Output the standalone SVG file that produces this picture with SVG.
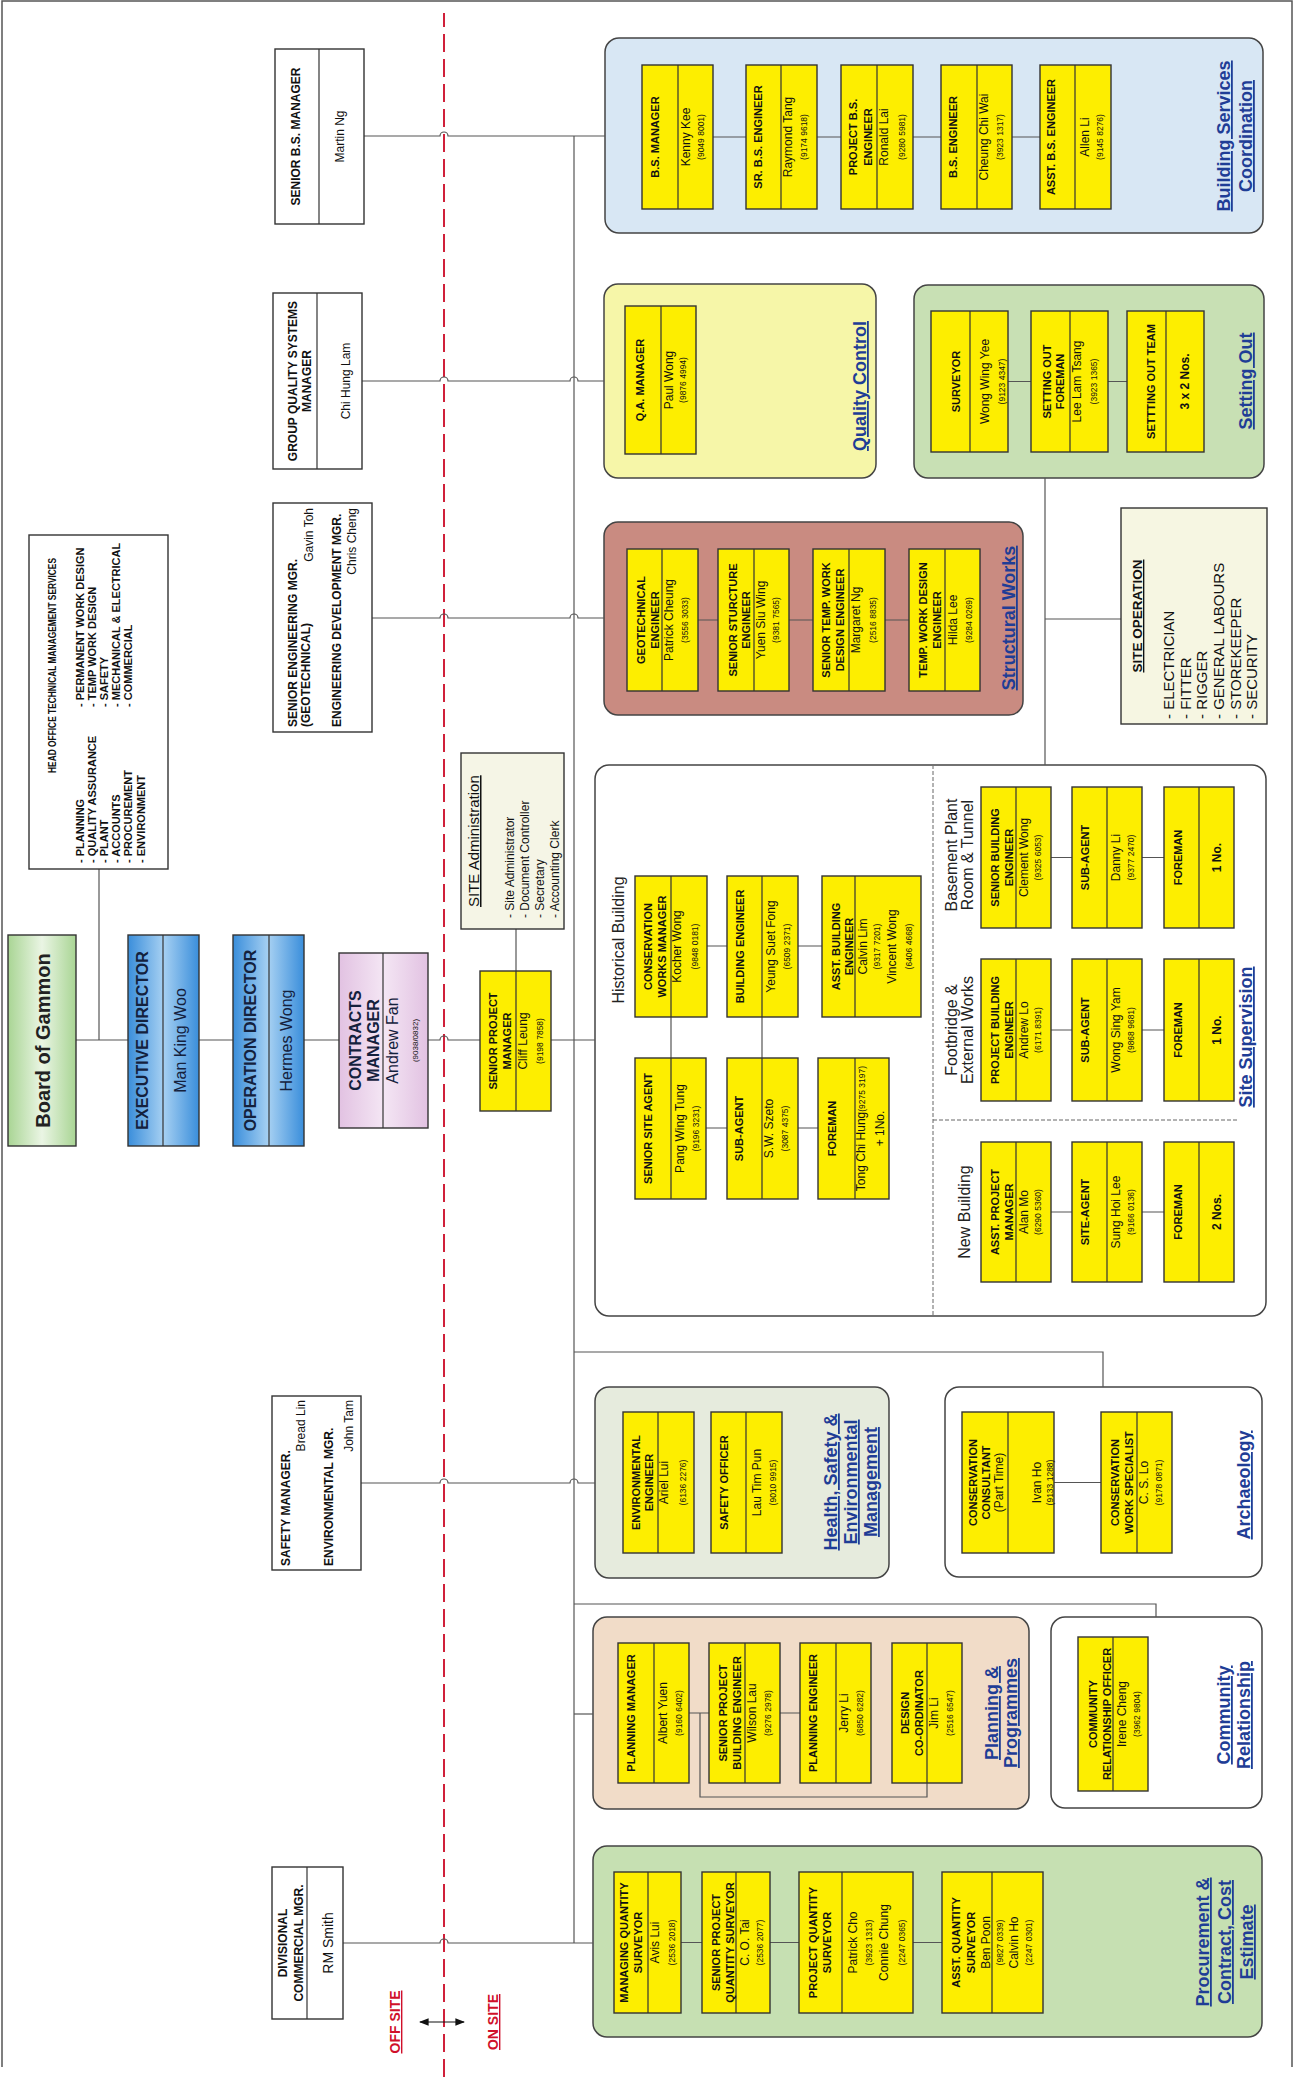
<svg xmlns="http://www.w3.org/2000/svg" width="1296" height="2077" viewBox="0 0 1296 2077">
<style>
text{font-family:"Liberation Sans",Arial,sans-serif;fill:#111}
.yb{fill:#fdee00;stroke:#333;stroke-width:1.4}
.wb{fill:#fff;stroke:#333;stroke-width:1.4}
.dv{stroke:#333;stroke-width:1.2}
.cn{fill:none;stroke:#555;stroke-width:1.2}
.ct{stroke:#444;stroke-width:1.5}
.t{font-size:11px;font-weight:bold;text-anchor:middle}
.n{font-size:12px;text-anchor:middle}
.p{font-size:8.5px;text-anchor:middle}
.b12{font-size:12px;font-weight:bold;text-anchor:middle}
.lb{font-size:18px;font-weight:bold;fill:#1f3d96;text-decoration:underline;text-anchor:middle}
.sub{font-size:16px;text-anchor:middle;fill:#222}
.bt{font-size:16px;font-weight:bold;text-anchor:middle;fill:#14213d}
.bn{font-size:16px;text-anchor:middle;fill:#14213d}
.hl{font-size:11px;font-weight:bold}
.red{font-size:14px;font-weight:bold;fill:#d0102a;text-decoration:underline;text-anchor:middle}
</style>
<defs>
<linearGradient id="gGreen" x1="0" y1="0" x2="0" y2="1"><stop offset="0" stop-color="#a9d594"/><stop offset="0.5" stop-color="#eaf5e4"/><stop offset="1" stop-color="#a9d594"/></linearGradient>
<linearGradient id="gBlue" x1="0" y1="0" x2="0" y2="1"><stop offset="0" stop-color="#3a8edb"/><stop offset="0.5" stop-color="#a6d0f2"/><stop offset="1" stop-color="#3a8edb"/></linearGradient>
<linearGradient id="gPink" x1="0" y1="0" x2="0" y2="1"><stop offset="0" stop-color="#e2c2e2"/><stop offset="0.5" stop-color="#f4e6f4"/><stop offset="1" stop-color="#e2c2e2"/></linearGradient>
<marker id="ah" viewBox="0 0 10 10" refX="9" refY="5" markerWidth="8" markerHeight="8" orient="auto-start-reverse"><path d="M0 1 L10 5 L0 9z" fill="#111"/></marker>
</defs>
<rect width="1296" height="2077" fill="#fff"/>
<path d="M2 2067 V1 H1292 V2067" fill="none" stroke="#555" stroke-width="1.5"/>
<g transform="translate(0,2077) rotate(-90)">

<!-- containers -->
<g id="grp-bs"><rect class="ct" x="1844" y="605" width="195" height="658" rx="14" fill="#d8e7f4"/>
<text class="lb" x="1941" y="1230">Building Services</text><text class="lb" x="1941" y="1252">Coordination</text></g>
<g id="grp-qc"><rect class="ct" x="1599" y="604" width="194" height="272" rx="14" fill="#f6f6a8"/>
<text class="lb" x="1691" y="866">Quality Control</text></g>
<g id="grp-so"><rect class="ct" x="1599" y="914" width="193" height="350" rx="14" fill="#c8e0b4"/>
<text class="lb" x="1696" y="1252">Setting Out</text></g>
<g id="grp-sw"><rect class="ct" x="1362" y="604" width="193" height="419" rx="14" fill="#c98b81"/>
<text class="lb" x="1459" y="1015">Structural Works</text></g>
<g id="grp-ss"><rect class="ct" x="761" y="595" width="551" height="671" rx="14" fill="#fff"/>
<path d="M762 933 H1311 M957 933 V1237" fill="none" stroke="#666" stroke-width="1" stroke-dasharray="4 2"/>
<text class="sub" x="1137" y="624">Historical Building</text>
<text class="sub" x="1222" y="957">Basement Plant</text><text class="sub" x="1222" y="973">Room &amp; Tunnel</text>
<text class="sub" x="1047" y="957">Footbridge &amp;</text><text class="sub" x="1047" y="973">External Works</text>
<text class="sub" x="865" y="970">New Building</text>
<text class="lb" x="1040" y="1252">Site Supervision</text></g>
<g id="grp-hse"><rect class="ct" x="499" y="595" width="191" height="294" rx="14" fill="#e6ebdd"/>
<text class="lb" x="595" y="837">Health, Safety &amp;</text><text class="lb" x="595" y="857">Environmental</text><text class="lb" x="595" y="877">Management</text></g>
<g id="grp-arch"><rect class="ct" x="500" y="945" width="190" height="317" rx="14" fill="#fff"/>
<text class="lb" x="592" y="1250">Archaeology</text></g>
<g id="grp-plan"><rect class="ct" x="268" y="593" width="192" height="436" rx="14" fill="#f1dcc8"/>
<text class="lb" x="364" y="998">Planning &amp;</text><text class="lb" x="364" y="1017">Programmes</text></g>
<g id="grp-comm"><rect class="ct" x="269" y="1051" width="191" height="211" rx="14" fill="#fff"/>
<text class="lb" x="362" y="1230">Community</text><text class="lb" x="362" y="1250">Relationship</text></g>
<g id="grp-proc"><rect class="ct" x="40" y="593" width="191" height="669" rx="14" fill="#c6e0b2"/>
<text class="lb" x="135" y="1209">Procurement &amp;</text><text class="lb" x="135" y="1231">Contract, Cost</text><text class="lb" x="135" y="1253">Estimate</text></g>

<!-- on/off site -->
<path d="M0 444 H2064" fill="none" stroke="#d0203a" stroke-width="2" stroke-dasharray="18 7"/>

<!-- connectors -->
<g id="connectors" class="cn">
<path d="M1941 364 V440 A4 4 0 0 1 1941 448 V605"/>
<path d="M1941 574 L134 574"/>
<path d="M1696 362 V440 A4 4 0 0 1 1696 448 V570 A4 4 0 0 1 1696 578 V604"/>
<path d="M1459 372 V440 A4 4 0 0 1 1459 448 V570 A4 4 0 0 1 1459 578 V604"/>
<path d="M1208 99 H1037"/>
<path d="M1037 76 V440 A4 4 0 0 1 1037 448 V595"/>
<path d="M1106 516 H1148"/>
<path d="M594 361 V440 A4 4 0 0 1 594 448 V570 A4 4 0 0 1 594 578 V595"/>
<path d="M134 343 V440 A4 4 0 0 1 134 448 V593"/>
<path d="M725 574 V1103 H690"/>
<path d="M473 574 V1156 H460"/>
<path d="M363 574 V593"/>
<path d="M1312 1045 H1599 M1458 1045 V1121"/>
<path d="M1940 713 V746 M1940 817 V841 M1940 913 V941 M1940 1012 V1040"/>
<path d="M1457 698 V718 M1457 789 V813 M1457 885 V909"/>
<path d="M1695.5 1008 V1031 M1695.5 1108 V1127"/>
<path d="M1131 707 V727 M1131 798 V822 M949 706 V727 M949 798 V818 M1019 671 H1060 M1019 762 H1060"/>
<path d="M865 1051 V1072 M865 1142 V1164 M1047 1051 V1072 M1047 1142 V1164 M1219.5 1051 V1072 M1219.5 1142 V1164"/>
<path d="M594.5 1054 V1101"/>
<path d="M364 689 V709 M364 780 V800 M364 700 H280 V927 H294"/>
<path d="M134.5 681 V702 M134.5 770 V799 M134.5 913 V942"/>
<path d="M55 420 V464" stroke="#111" marker-start="url(#ah)" marker-end="url(#ah)"/>
</g>
<text class="red" x="55" y="400">OFF SITE</text>
<text class="red" x="55" y="498">ON SITE</text>

<!-- trunk nodes -->
<g id="board"><rect x="931" y="8" width="211" height="68" fill="url(#gGreen)" stroke="#333" stroke-width="1.4"/>
<text x="1036.5" y="50" style="font-size:20px;font-weight:bold;text-anchor:middle;fill:#222">Board of Gammon</text></g>
<g id="exec"><rect x="931" y="128" width="211" height="71" fill="url(#gBlue)" stroke="#333" stroke-width="1.4"/><line class="dv" x1="931" x2="1142" y1="163" y2="163"/>
<text class="bt" x="1036.5" y="148">EXECUTIVE DIRECTOR</text><text class="bn" x="1036.5" y="186">Man King Woo</text></g>
<g id="opdir"><rect x="931" y="233" width="211" height="71" fill="url(#gBlue)" stroke="#333" stroke-width="1.4"/><line class="dv" x1="931" x2="1142" y1="269" y2="269"/>
<text class="bt" x="1036.5" y="256">OPERATION DIRECTOR</text><text class="bn" x="1036.5" y="292">Hermes Wong</text></g>
<g id="contracts"><rect x="949" y="339" width="175" height="89" fill="url(#gPink)" stroke="#333" stroke-width="1.4"/><line class="dv" x1="949" x2="1124" y1="383" y2="383"/>
<text class="bt" x="1036.5" y="361">CONTRACTS</text><text class="bt" x="1036.5" y="379">MANAGER</text><text class="bn" x="1036.5" y="398">Andrew Fan</text><text class="p" x="1036.5" y="418" style="font-size:8px">(9038/0832)</text></g>
<g id="spm"><rect class="yb" x="966" y="480" width="140" height="71"/><line class="dv" x1="966" x2="1106" y1="516" y2="516"/>
<text class="t" x="1036" y="497">SENIOR PROJECT</text><text class="t" x="1036" y="511">MANAGER</text><text class="n" x="1036" y="527">Cliff Leung</text><text class="p" x="1036" y="543">(9198 7858)</text></g>
<g id="siteadmin"><rect x="1148" y="461" width="176" height="103" fill="#f5f5e6" stroke="#333" stroke-width="1.4"/>
<text x="1170" y="479" style="font-size:15px;text-decoration:underline">SITE Administration</text>
<text x="1159" y="514" style="font-size:12px">- Site Administrator</text><text x="1159" y="529" style="font-size:12px">- Document Controller</text><text x="1159" y="544" style="font-size:12px">- Secretary</text><text x="1159" y="559" style="font-size:12px">- Accounting Clerk</text></g>

<!-- off-site nodes -->
<g id="headoffice"><rect class="wb" x="1208" y="29" width="334" height="139"/>
<text class="hl" x="1304" y="56" textLength="215" lengthAdjust="spacingAndGlyphs">HEAD OFFICE TECHNICAL MANAGEMENT SERVICES</text>
<text class="hl" x="1214" y="84">- PLANNING</text><text class="hl" x="1214" y="96">- QUALITY ASSURANCE</text><text class="hl" x="1214" y="108">- PLANT</text><text class="hl" x="1214" y="120">- ACCOUNTS</text><text class="hl" x="1214" y="132">- PROCUREMENT</text><text class="hl" x="1214" y="145">- ENVIRONMENT</text>
<text class="hl" x="1370" y="84">- PERMANENT WORK DESIGN</text><text class="hl" x="1370" y="96">- TEMP WORK DESIGN</text><text class="hl" x="1370" y="108">- SAFETY</text><text class="hl" x="1370" y="120">- MECHANICAL &amp; ELECTRICAL</text><text class="hl" x="1370" y="132">- COMMERCIAL</text></g>
<g id="srbsmgr"><rect class="wb" x="1853" y="275" width="175" height="89"/><line class="dv" x1="1853" x2="2028" y1="319" y2="319"/>
<text class="b12" x="1940.5" y="300">SENIOR B.S. MANAGER</text><text class="n" x="1940.5" y="344">Martin Ng</text></g>
<g id="gqsm"><rect class="wb" x="1608" y="273" width="176" height="89"/><line class="dv" x1="1608" x2="1784" y1="317" y2="317"/>
<text class="b12" x="1696" y="297">GROUP QUALITY SYSTEMS</text><text class="b12" x="1696" y="311">MANAGER</text><text class="n" x="1696" y="350">Chi Hung Lam</text></g>
<g id="srengmgr"><rect class="wb" x="1345" y="273" width="229" height="99"/>
<text x="1350" y="297" style="font-size:12px;font-weight:bold">SENIOR ENGINEERING MGR.</text>
<text x="1350" y="310" style="font-size:12px;font-weight:bold">(GEOTECHNICAL)</text>
<text x="1569" y="313" style="font-size:12px;text-anchor:end">Gavin Toh</text>
<text x="1350" y="341" style="font-size:12px;font-weight:bold">ENGINEERING DEVELOPMENT MGR.</text>
<text x="1569" y="356" style="font-size:12px;text-anchor:end">Chris Cheng</text></g>
<g id="safetymgr"><rect class="wb" x="507" y="272" width="174" height="89"/>
<text x="511" y="290" style="font-size:12px;font-weight:bold">SAFETY MANAGER.</text>
<text x="677" y="305" style="font-size:12px;text-anchor:end">Bread Lin</text>
<text x="511" y="333" style="font-size:12px;font-weight:bold">ENVIRONMENTAL MGR.</text>
<text x="677" y="353" style="font-size:12px;text-anchor:end">John Tam</text></g>
<g id="divcom"><rect class="wb" x="58" y="272" width="152" height="71"/><line class="dv" x1="58" x2="210" y1="307" y2="307"/>
<text class="b12" x="134" y="287">DIVISIONAL</text><text class="b12" x="134" y="303">COMMERCIAL MGR.</text><text x="134" y="333" style="font-size:14px;text-anchor:middle">RM Smith</text></g>

<!-- Building services -->
<g id="bs1"><rect class="yb" x="1868" y="642" width="144" height="71"/><line class="dv" x1="1868" x2="2012" y1="678" y2="678"/>
<text class="t" x="1940" y="659">B.S. MANAGER</text><text class="n" x="1940" y="690">Kenny Kee</text><text class="p" x="1940" y="704">(9049 8001)</text></g>
<g id="bs2"><rect class="yb" x="1868" y="746" width="144" height="71"/><line class="dv" x1="1868" x2="2012" y1="781" y2="781"/>
<text class="t" x="1940" y="762">SR. B.S. ENGINEER</text><text class="n" x="1940" y="792">Raymond Tang</text><text class="p" x="1940" y="807">(9174 9618)</text></g>
<g id="bs3"><rect class="yb" x="1868" y="841" width="144" height="72"/><line class="dv" x1="1868" x2="2012" y1="877" y2="877"/>
<text class="t" x="1940" y="857">PROJECT B.S.</text><text class="t" x="1940" y="872">ENGINEER</text><text class="n" x="1940" y="888">Ronald Lai</text><text class="p" x="1940" y="905">(9280 5981)</text></g>
<g id="bs4"><rect class="yb" x="1868" y="941" width="144" height="71"/><line class="dv" x1="1868" x2="2012" y1="977" y2="977"/>
<text class="t" x="1940" y="957">B.S. ENGINEER</text><text class="n" x="1940" y="988">Cheung Chi Wai</text><text class="p" x="1940" y="1003">(3923 1317)</text></g>
<g id="bs5"><rect class="yb" x="1868" y="1040" width="144" height="71"/><line class="dv" x1="1868" x2="2012" y1="1075" y2="1075"/>
<text class="t" x="1940" y="1055">ASST. B.S. ENGINEER</text><text class="n" x="1940" y="1089">Allen Li</text><text class="p" x="1940" y="1103">(9145 8276)</text></g>

<!-- QC -->
<g id="qa"><rect class="yb" x="1623" y="625" width="148" height="71"/><line class="dv" x1="1623" x2="1771" y1="661" y2="661"/>
<text class="t" x="1697" y="644">Q.A. MANAGER</text><text class="n" x="1697" y="673">Paul Wong</text><text class="p" x="1697" y="686">(9876 4994)</text></g>

<!-- Structural -->
<g id="sw1"><rect class="yb" x="1386" y="627" width="142" height="71"/><line class="dv" x1="1386" x2="1528" y1="662" y2="662"/>
<text class="t" x="1457" y="645">GEOTECHNICAL</text><text class="t" x="1457" y="659">ENGINEER</text><text class="n" x="1457" y="673">Patrick Cheung</text><text class="p" x="1457" y="688">(3556 3033)</text></g>
<g id="sw2"><rect class="yb" x="1386" y="718" width="142" height="71"/><line class="dv" x1="1386" x2="1528" y1="754" y2="754"/>
<text class="t" x="1457" y="737">SENIOR STURCTURE</text><text class="t" x="1457" y="750">ENGINEER</text><text class="n" x="1457" y="765">Yuen Siu Wing</text><text class="p" x="1457" y="779">(9381 7565)</text></g>
<g id="sw3"><rect class="yb" x="1386" y="813" width="142" height="72"/><line class="dv" x1="1386" x2="1528" y1="849" y2="849"/>
<text class="t" x="1457" y="830">SENIOR TEMP. WORK</text><text class="t" x="1457" y="844">DESIGN ENGINEER</text><text class="n" x="1457" y="860">Margaret Ng</text><text class="p" x="1457" y="876">(2516 8835)</text></g>
<g id="sw4"><rect class="yb" x="1386" y="909" width="142" height="71"/><line class="dv" x1="1386" x2="1528" y1="945" y2="945"/>
<text class="t" x="1457" y="927">TEMP. WORK DESIGN</text><text class="t" x="1457" y="941">ENGINEER</text><text class="n" x="1457" y="957">Hilda Lee</text><text class="p" x="1457" y="972">(9284 0269)</text></g>

<!-- Setting out -->
<g id="so1"><rect class="yb" x="1625" y="931" width="141" height="77"/><line class="dv" x1="1625" x2="1766" y1="970" y2="970"/>
<text class="t" x="1695.5" y="960">SURVEYOR</text><text class="n" x="1695.5" y="989">Wong Wing Yee</text><text class="p" x="1695.5" y="1005">(9123 4347)</text></g>
<g id="so2"><rect class="yb" x="1625" y="1031" width="141" height="77"/><line class="dv" x1="1625" x2="1766" y1="1070" y2="1070"/>
<text class="t" x="1695.5" y="1051">SETTING OUT</text><text class="t" x="1695.5" y="1064">FOREMAN</text><text class="n" x="1695.5" y="1081">Lee Lam Tsang</text><text class="p" x="1695.5" y="1097">(3923 1365)</text></g>
<g id="so3"><rect class="yb" x="1625" y="1127" width="141" height="77"/><line class="dv" x1="1625" x2="1766" y1="1166" y2="1166"/>
<text class="t" x="1695.5" y="1155">SETTTING OUT TEAM</text><text class="b12" x="1695.5" y="1189">3 x 2 Nos.</text></g>

<!-- Site operation -->
<g id="siteop"><rect x="1353" y="1121" width="216" height="146" fill="#f6f6e2" stroke="#333" stroke-width="1.4"/>
<text x="1461" y="1142" style="font-size:13.5px;font-weight:bold;text-anchor:middle;text-decoration:underline">SITE OPERATION</text>
<text x="1358" y="1174" style="font-size:15px">- ELECTRICIAN</text><text x="1358" y="1191" style="font-size:15px">- FITTER</text><text x="1358" y="1207" style="font-size:15px">- RIGGER</text><text x="1358" y="1224" style="font-size:15px">- GENERAL LABOURS</text><text x="1358" y="1241" style="font-size:15px">- STOREKEEPER</text><text x="1358" y="1257" style="font-size:15px">- SECURITY</text></g>

<!-- Historical building -->
<g id="hb1"><rect class="yb" x="1060" y="635" width="141" height="72"/><line class="dv" x1="1060" x2="1201" y1="671" y2="671"/>
<text class="t" x="1130.5" y="652">CONSERVATION</text><text class="t" x="1130.5" y="666">WORKS MANAGER</text><text class="n" x="1130.5" y="681">Kocher Wong</text><text class="p" x="1130.5" y="698">(9848 0181)</text></g>
<g id="hb2"><rect class="yb" x="1060" y="727" width="141" height="71"/><line class="dv" x1="1060" x2="1201" y1="762" y2="762"/>
<text class="t" x="1130.5" y="744">BUILDING ENGINEER</text><text class="n" x="1130.5" y="775">Yeung Suet Fong</text><text class="p" x="1130.5" y="790">(6509 2371)</text></g>
<g id="hb3"><rect class="yb" x="1060" y="822" width="141" height="99"/><line class="dv" x1="1060" x2="1201" y1="855" y2="855"/>
<text class="t" x="1130.5" y="840">ASST. BUILDING</text><text class="t" x="1130.5" y="853">ENGINEER</text><text class="n" x="1130.5" y="867">Calvin Lim</text><text class="p" x="1130.5" y="880">(9317 7201)</text><text class="n" x="1130.5" y="896">Vincent Wong</text><text class="p" x="1130.5" y="912">(6406 4668)</text></g>
<g id="hb4"><rect class="yb" x="878" y="635" width="141" height="71"/><line class="dv" x1="878" x2="1019" y1="671" y2="671"/>
<text class="t" x="948.5" y="652">SENIOR SITE AGENT</text><text class="n" x="948.5" y="684">Pang Wing Tung</text><text class="p" x="948.5" y="699">(9196 3231)</text></g>
<g id="hb5"><rect class="yb" x="878" y="727" width="141" height="71"/><line class="dv" x1="878" x2="1019" y1="762" y2="762"/>
<text class="t" x="948.5" y="743">SUB-AGENT</text><text class="n" x="948.5" y="773">S.W. Szeto</text><text class="p" x="948.5" y="788">(3087 4375)</text></g>
<g id="hb6"><rect class="yb" x="878" y="818" width="141" height="71"/><line class="dv" x1="878" x2="1019" y1="855" y2="855"/>
<text class="t" x="948.5" y="836">FOREMAN</text><text class="n" x="948.5" y="865">Tong Chi Hung<tspan style="font-size:8.5px">(9275 3197)</tspan></text><text class="n" x="948.5" y="884">+ 1No.</text></g>

<!-- Basement -->
<g id="bp1"><rect class="yb" x="1149" y="981" width="141" height="70"/><line class="dv" x1="1149" x2="1290" y1="1016" y2="1016"/>
<text class="t" x="1219.5" y="999">SENIOR BUILDING</text><text class="t" x="1219.5" y="1013">ENGINEER</text><text class="n" x="1219.5" y="1028">Clement Wong</text><text class="p" x="1219.5" y="1041">(9325 6053)</text></g>
<g id="bp2"><rect class="yb" x="1149" y="1072" width="141" height="70"/><line class="dv" x1="1149" x2="1290" y1="1107" y2="1107"/>
<text class="t" x="1219.5" y="1089">SUB-AGENT</text><text class="n" x="1219.5" y="1120">Danny Li</text><text class="p" x="1219.5" y="1134">(9377 2470)</text></g>
<g id="bp3"><rect class="yb" x="1149" y="1164" width="141" height="70"/><line class="dv" x1="1149" x2="1290" y1="1199" y2="1199"/>
<text class="t" x="1219.5" y="1182">FOREMAN</text><text class="b12" x="1219.5" y="1221">1 No.</text></g>

<!-- Footbridge -->
<g id="fb1"><rect class="yb" x="976" y="981" width="142" height="70"/><line class="dv" x1="976" x2="1118" y1="1016" y2="1016"/>
<text class="t" x="1047" y="999">PROJECT BUILDING</text><text class="t" x="1047" y="1013">ENGINEER</text><text class="n" x="1047" y="1028">Andrew Lo</text><text class="p" x="1047" y="1041">(6171 8391)</text></g>
<g id="fb2"><rect class="yb" x="976" y="1072" width="142" height="70"/><line class="dv" x1="976" x2="1118" y1="1107" y2="1107"/>
<text class="t" x="1047" y="1089">SUB-AGENT</text><text class="n" x="1047" y="1120">Wong Sing Yam</text><text class="p" x="1047" y="1134">(9868 9681)</text></g>
<g id="fb3"><rect class="yb" x="976" y="1164" width="142" height="70"/><line class="dv" x1="976" x2="1118" y1="1199" y2="1199"/>
<text class="t" x="1047" y="1182">FOREMAN</text><text class="b12" x="1047" y="1221">1 No.</text></g>

<!-- New building -->
<g id="nb1"><rect class="yb" x="795" y="981" width="140" height="70"/><line class="dv" x1="795" x2="935" y1="1016" y2="1016"/>
<text class="t" x="865" y="999">ASST. PROJECT</text><text class="t" x="865" y="1013">MANAGER</text><text class="n" x="865" y="1028">Alan Mo</text><text class="p" x="865" y="1041">(6290 5360)</text></g>
<g id="nb2"><rect class="yb" x="795" y="1072" width="140" height="70"/><line class="dv" x1="795" x2="935" y1="1107" y2="1107"/>
<text class="t" x="865" y="1089">SITE-AGENT</text><text class="n" x="865" y="1120">Sung Hoi Lee</text><text class="p" x="865" y="1134">(9166 0136)</text></g>
<g id="nb3"><rect class="yb" x="795" y="1164" width="140" height="70"/><line class="dv" x1="795" x2="935" y1="1199" y2="1199"/>
<text class="t" x="865" y="1182">FOREMAN</text><text class="b12" x="865" y="1221">2 Nos.</text></g>

<!-- HSE -->
<g id="hse1"><rect class="yb" x="524" y="623" width="141" height="71"/><line class="dv" x1="524" x2="665" y1="658" y2="658"/>
<text class="t" x="594.5" y="640">ENVIRONMENTAL</text><text class="t" x="594.5" y="653">ENGINEER</text><text class="n" x="594.5" y="668">Ariel Lui</text><text class="p" x="594.5" y="686">(6136 2276)</text></g>
<g id="hse2"><rect class="yb" x="524" y="711" width="141" height="71"/><line class="dv" x1="524" x2="665" y1="746" y2="746"/>
<text class="t" x="594.5" y="728">SAFETY OFFICER</text><text class="n" x="594.5" y="761">Lau Tim Pun</text><text class="p" x="594.5" y="776">(9010 9915)</text></g>

<!-- Archaeology -->
<g id="ar1"><rect class="yb" x="524" y="962" width="141" height="92"/><line class="dv" x1="524" x2="665" y1="1008" y2="1008"/>
<text class="t" x="594.5" y="977">CONSERVATION</text><text class="t" x="594.5" y="990">CONSULTANT</text><text class="n" x="594.5" y="1003">(Part Time)</text><text class="n" x="594.5" y="1041">Ivan Ho</text><text class="p" x="594.5" y="1053">(9133 1288)</text></g>
<g id="ar2"><rect class="yb" x="524" y="1101" width="141" height="71"/><line class="dv" x1="524" x2="665" y1="1137" y2="1137"/>
<text class="t" x="594.5" y="1119">CONSERVATION</text><text class="t" x="594.5" y="1133">WORK SPECIALIST</text><text class="n" x="594.5" y="1148">C. S. Lo</text><text class="p" x="594.5" y="1162">(9178 0871)</text></g>

<!-- Planning -->
<g id="pl1"><rect class="yb" x="294" y="618" width="140" height="71"/><line class="dv" x1="294" x2="434" y1="654" y2="654"/>
<text class="t" x="364" y="635">PLANNING MANAGER</text><text class="n" x="364" y="667">Albert Yuen</text><text class="p" x="364" y="682">(9160 6402)</text></g>
<g id="pl2"><rect class="yb" x="294" y="709" width="140" height="71"/><line class="dv" x1="294" x2="434" y1="745" y2="745"/>
<text class="t" x="364" y="727">SENIOR PROJECT</text><text class="t" x="364" y="741">BUILDING ENGINEER</text><text class="n" x="364" y="756">Wilson Lau</text><text class="p" x="364" y="771">(9276 2978)</text></g>
<g id="pl3"><rect class="yb" x="294" y="800" width="140" height="71"/><line class="dv" x1="294" x2="434" y1="836" y2="836"/>
<text class="t" x="364" y="817">PLANNING ENGINEER</text><text class="n" x="364" y="848">Jerry Li</text><text class="p" x="364" y="863">(6850 6282)</text></g>
<g id="pl4"><rect class="yb" x="294" y="892" width="140" height="70"/><line class="dv" x1="294" x2="434" y1="927" y2="927"/>
<text class="t" x="364" y="909">DESIGN</text><text class="t" x="364" y="923">CO-ORDINATOR</text><text class="n" x="364" y="938">Jim Li</text><text class="p" x="364" y="953">(2516 6547)</text></g>

<!-- Community -->
<g id="cr1"><rect class="yb" x="286" y="1078" width="154" height="70"/><line class="dv" x1="286" x2="440" y1="1113" y2="1113"/>
<text class="t" x="363" y="1097">COMMUNITY</text><text class="t" x="363" y="1111">RELATIONSHIP OFFICER</text><text class="n" x="363" y="1126">Irene Cheng</text><text class="p" x="363" y="1140">(3962 9804)</text></g>

<!-- Procurement -->
<g id="pq1"><rect class="yb" x="64" y="614" width="141" height="67"/><line class="dv" x1="64" x2="205" y1="648" y2="648"/>
<text class="t" x="134.5" y="628">MANAGING QUANTITY</text><text class="t" x="134.5" y="642">SURVEYOR</text><text class="n" x="134.5" y="659">Avis Lui</text><text class="p" x="134.5" y="675">(2536 2018)</text></g>
<g id="pq2"><rect class="yb" x="64" y="702" width="141" height="68"/><line class="dv" x1="64" x2="205" y1="736" y2="736"/>
<text class="t" x="134.5" y="720">SENIOR PROJECT</text><text class="t" x="134.5" y="734">QUANTITY SURVEYOR</text><text class="n" x="134.5" y="749">C. O. Tai</text><text class="p" x="134.5" y="763">(2536 2077)</text></g>
<g id="pq3"><rect class="yb" x="64" y="799" width="141" height="114"/><line class="dv" x1="64" x2="205" y1="842" y2="842"/>
<text class="t" x="134.5" y="817">PROJECT QUANTITY</text><text class="t" x="134.5" y="831">SURVEYOR</text><text class="n" x="134.5" y="857">Patrick Cho</text><text class="p" x="134.5" y="872">(3923 1313)</text><text class="n" x="134.5" y="888">Connie Chung</text><text class="p" x="134.5" y="905">(2247 0365)</text></g>
<g id="pq4"><rect class="yb" x="64" y="942" width="141" height="101"/><line class="dv" x1="64" x2="205" y1="992" y2="992"/>
<text class="t" x="134.5" y="960">ASST. QUANTITY</text><text class="t" x="134.5" y="975">SURVEYOR</text><text class="n" x="134.5" y="990">Ben Poon</text><text class="p" x="134.5" y="1003">(9827 0339)</text><text class="n" x="134.5" y="1018">Calvin Ho</text><text class="p" x="134.5" y="1032">(2247 0301)</text></g>
</g>
</svg>
